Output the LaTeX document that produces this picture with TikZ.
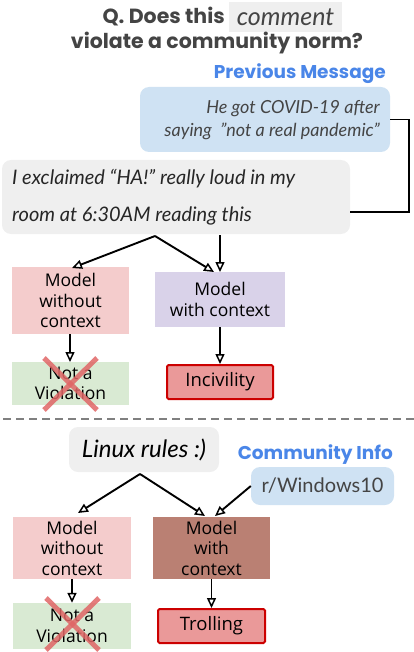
\documentclass[tikz,border=0pt]{standalone}
\usepackage{fontspec}
\setmainfont{Lato}
\newfontfamily\titlefont{Poppins}
\newfontfamily\boxfont{Open Sans}
\usetikzlibrary{arrows.meta,calc}
\definecolor{txtgray}{HTML}{444444}
\definecolor{bgray}{HTML}{EFEFEF}
\definecolor{bblue}{HTML}{CFE2F3}
\definecolor{tblue}{HTML}{4A86E8}
\definecolor{bpink}{HTML}{F4CCCC}
\definecolor{bpurple}{HTML}{D9D2E9}
\definecolor{bgreen}{HTML}{D9EAD3}
\definecolor{bred}{HTML}{EA9999}
\definecolor{dred}{HTML}{CC0000}
\definecolor{bbrown}{HTML}{BA8073}
\definecolor{xred}{HTML}{E06666}
\tikzset{
  conn/.style={line width=1.9pt, -{Triangle[open,length=10pt,width=9pt,line width=1.5pt]}},
  plain/.style={line width=1.9pt},
  modelbox/.style={draw=none, align=center, inner sep=0pt, font=\boxfont\fontsize{17.5}{20.5}\selectfont, text=black},
  resbox/.style={draw=dred, line width=2pt, rounded corners=1.5pt, fill=bred, align=center, inner sep=0pt, font=\boxfont\fontsize{18.5}{20}\selectfont},
  bubble/.style={rounded corners=9pt, inner sep=0pt},
  xmark/.style={line width=5pt, draw=xred, opacity=0.85},
  bluelabel/.style={text=tblue, font=\titlefont\bfseries\fontsize{18.5}{20}\selectfont, inner sep=0pt},
}
\begin{document}
\begin{tikzpicture}[x=1pt,y=-1pt]
\useasboundingbox (0,0) rectangle (414,652);
% title
\node[fill=bgray, minimum width=113pt, minimum height=30pt, inner sep=0pt, text=txtgray,
      font=\itshape\fontsize{25}{26}\selectfont] (cmt) at (285.5,17) {comment};
\node[anchor=east, inner sep=0pt, text=txtgray, font=\titlefont\bfseries\fontsize{20.5}{22}\selectfont] (q1) at (225,17) {Q. Does this};
\node[inner sep=0pt, text=txtgray, font=\titlefont\bfseries\fontsize{20.5}{22}\selectfont] (q2) at (217,43) {violate a community norm?};
% previous message
\node[bluelabel, anchor=east] (pmlab) at (386,74) {Previous Message};
\node[bubble, fill=bblue, minimum width=250pt, minimum height=65pt] (pm) at (265,119.5) {};
\node[anchor=east, align=right, inner sep=0pt, text=txtgray, font=\itshape\fontsize{18}{23}\selectfont] (pmt) at (380,120) {He got COVID-19 after\\saying \ \symbol{34}not a real pandemic\symbol{34}};
% comment
\node[bubble, fill=bgray, minimum width=348pt, minimum height=74pt] (cm) at (176,197) {};
\node[anchor=west, align=left, inner sep=0pt, text=black!85, font=\itshape\fontsize{20}{37}\selectfont] (cmtext) at (12,197) {I exclaimed “HA!” really loud in my\\room at 6:30AM reading this};
\draw[plain] (pm.east) -- (409,119.5) |- (cm.east |- 0,212);
% upper models
\node[modelbox, fill=bpink, minimum width=117pt, minimum height=67pt] (m1) at (70.5,300.5) {Model\\without\\context};
\node[modelbox, fill=bpurple, minimum width=130pt, minimum height=55pt] (m2) at (220,299.5) {Model\\with context};
\coordinate (s1) at (155,236);
\draw[conn] (s1) -- (72,268);
\draw[conn] (s1) -- (214,272);
\draw[conn] (220,235) -- (220,272);
\node[modelbox, fill=bgreen, minimum width=117pt, minimum height=43pt] (nv1) at (70.5,383.5) {Not a\\Violation};
\draw[conn] (m1.south -| 70,0) -- (70,362);
\node[resbox, minimum width=106pt, minimum height=34pt] (inc) at (220,382) {Incivility};
\draw[conn] (m2.south) -- (inc.north);
\draw[xmark] (44,358) -- (97,410);
\draw[xmark] (97,358) -- (44,410);
% dashed separator
\draw[gray, line width=1.5pt, dash pattern=on 8pt off 5pt] (3,419) -- (414,419);
% lower part
\node[bubble, fill=bgray, minimum width=150pt, minimum height=45pt, font=\itshape\fontsize{24}{26}\selectfont, text=black] (lr) at (144,449.5) {Linux rules :)};
\node[bluelabel, anchor=east] (cilab) at (393,455) {Community Info};
\node[bubble, fill=bblue, minimum width=143pt, minimum height=38pt, font=\fontsize{20}{22}\selectfont, text=txtgray] (win) at (322.5,486) {r/Windows10};
\node[modelbox, fill=bpink, minimum width=118pt, minimum height=62pt] (m3) at (72,548) {Model\\without\\context};
\node[modelbox, fill=bbrown, minimum width=117pt, minimum height=62pt] (m4) at (211.5,548) {Model\\with\\context};
\coordinate (s2) at (140,474);
\draw[conn] (s2) -- (78,513);
\draw[conn] (s2) -- (205,516);
\draw[conn] (win.west) -- (215,516);
\node[modelbox, fill=bgreen, minimum width=118pt, minimum height=46pt] (nv2) at (72,626) {Not a\\Violation};
\draw[conn] (m3.south) -- (nv2.north);
\node[resbox, minimum width=107pt, minimum height=34pt] (tr) at (211.5,626) {Trolling};
\draw[conn] (m4.south) -- (tr.north);
\draw[xmark] (46,598) -- (99,650);
\draw[xmark] (99,598) -- (46,650);
\end{tikzpicture}
\end{document}
